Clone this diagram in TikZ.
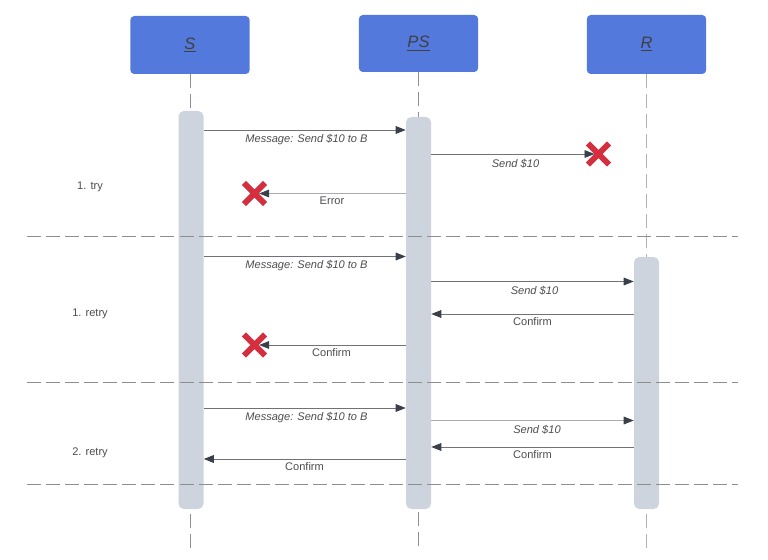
\documentclass[tikz,border=0pt]{standalone}
\usepackage{fontspec}
\setmainfont{Liberation Sans}
\usetikzlibrary{arrows.meta,shapes.misc}
\definecolor{boxblue}{HTML}{5279DB}
\definecolor{actgrey}{HTML}{CDD4DD}
\definecolor{dashgrey}{HTML}{8E8E8E}
\definecolor{xred}{HTML}{D32F3F}
\definecolor{tipdark}{HTML}{3A4049}
\definecolor{msggrey}{HTML}{6F7378}
\definecolor{lightmsg}{HTML}{A8ABAF}
\definecolor{txtgrey}{HTML}{4D4D4D}
\tikzset{
  party/.style={fill=boxblue,rounded corners=3pt,inner sep=0pt,minimum width=89.5pt,text=black!75,font=\fontsize{12.4pt}{14pt}\selectfont\itshape},
  activation/.style={fill=actgrey,rounded corners=4pt,inner sep=0pt,minimum width=18.75pt},
  lifeline/.style={draw=dashgrey,line width=0.6pt,dash pattern=on 10.5pt off 4.5pt},
  separator/.style={draw=dashgrey,line width=0.75pt,dash pattern=on 10.5pt off 3.8pt},
  failmark/.style={cross out,draw=xred,line width=4.4pt,minimum size=11.5pt,inner sep=0pt},
  msg/.style={draw=msggrey,line width=0.7pt,-{Triangle[length=7.5pt,width=5.8pt,fill=tipdark,color=tipdark]}},
  faint/.style={draw=lightmsg},
  plainlabel/.style={text=txtgrey,inner sep=0pt,font=\fontsize{8.3pt}{10pt}\selectfont},
  italiclabel/.style={plainlabel,font=\fontsize{8.3pt}{10pt}\selectfont\itshape},
  stage/.style={text=txtgrey,inner sep=0pt,font=\fontsize{8.3pt}{10pt}\selectfont},
}
\begin{document}
\begin{tikzpicture}[x=0.75pt,y=-0.75pt]
\useasboundingbox (0,0) rectangle (768,560);
% header boxes
\node[party,minimum height=43.5pt] (S) at (190,45) {\underline{S}};
\node[party,minimum height=42.75pt] (PS) at (418.5,43.5) {\underline{PS}};
\node[party,minimum height=44.25pt] (R) at (646.5,44.5) {\underline{R}};
% lifeline ends
\coordinate (Send) at (190,548);
\coordinate (PSend) at (418.5,548);
\coordinate (Rend) at (646.5,548);
\draw[lifeline] (S.south) -- (Send);
\draw[lifeline] (PS.south) -- (PSend);
\draw[lifeline,draw=dashgrey!70] (R.south) -- (Rend);
% activations
\node[activation,minimum height=298.5pt] (Sa) at (191,310) {};
\node[activation,minimum height=294pt] (Pa) at (418.5,313) {};
\node[activation,minimum height=189pt] (Ra) at (646.5,383) {};
% separators
\foreach \n/\y in {a/236.5,b/382.5,c/484.5}{
  \coordinate (sep\n l) at (27,\y);
  \coordinate (sep\n r) at (738,\y);
  \draw[separator] (sep\n l) -- (sep\n r);
}
% failure marks
\node[failmark] (x1) at (598.5,154) {};
\node[failmark] (x2) at (254.5,193.5) {};
\node[failmark] (x3) at (254.5,345) {};
% rows
\foreach \n/\y in {m1/130,m2/154.5,m3/193,m4/256.5,m5/281.5,m6/314,m7/345,m8/408,m9/420.5,m10/447,m11/459}{
  \coordinate (\n) at (0,\y);
}
\draw[msg] (Sa.east |- m1) -- (Pa.west |- m1);
\draw[msg,shorten >=3pt] (Pa.east |- x1) -- (x1.center);
\draw[msg,faint,shorten >=3.5pt] (Pa.west |- x2) -- (x2.center);
\draw[msg] (Sa.east |- m4) -- (Pa.west |- m4);
\draw[msg] (Pa.east |- m5) -- (Ra.west |- m5);
\draw[msg] (Ra.west |- m6) -- (Pa.east |- m6);
\draw[msg,shorten >=3.5pt] (Pa.west |- x3) -- (x3.center);
\draw[msg] (Sa.east |- m8) -- (Pa.west |- m8);
\draw[msg,faint] (Pa.east |- m9) -- (Ra.west |- m9);
\draw[msg] (Ra.west |- m10) -- (Pa.east |- m10);
\draw[msg] (Pa.west |- m11) -- (Sa.east |- m11);
% message labels
\node[italiclabel] (l1) at (306.5,139.5) {Message: Send \$10 to B};
\node[italiclabel] (l2) at (515.5,163.5) {Send \$10};
\node[plainlabel] (l3) at (332,201) {Error};
\node[italiclabel] (l4) at (306.5,265.5) {Message: Send \$10 to B};
\node[italiclabel] (l5) at (534.5,290.5) {Send \$10};
\node[plainlabel] (l6) at (532.5,322) {Confirm};
\node[plainlabel] (l7) at (331.5,353) {Confirm};
\node[italiclabel] (l8) at (306.5,417.5) {Message: Send \$10 to B};
\node[italiclabel] (l9) at (537,430) {Send \$10};
\node[plainlabel] (l10) at (532.5,455) {Confirm};
\node[plainlabel] (l11) at (304.5,467) {Confirm};
% stage labels
\node[stage] (t1) at (90,186.5) {1. try};
\node[stage] (t2) at (90,313.5) {1. retry};
\node[stage] (t3) at (90,452.5) {2. retry};
\end{tikzpicture}
\end{document}
